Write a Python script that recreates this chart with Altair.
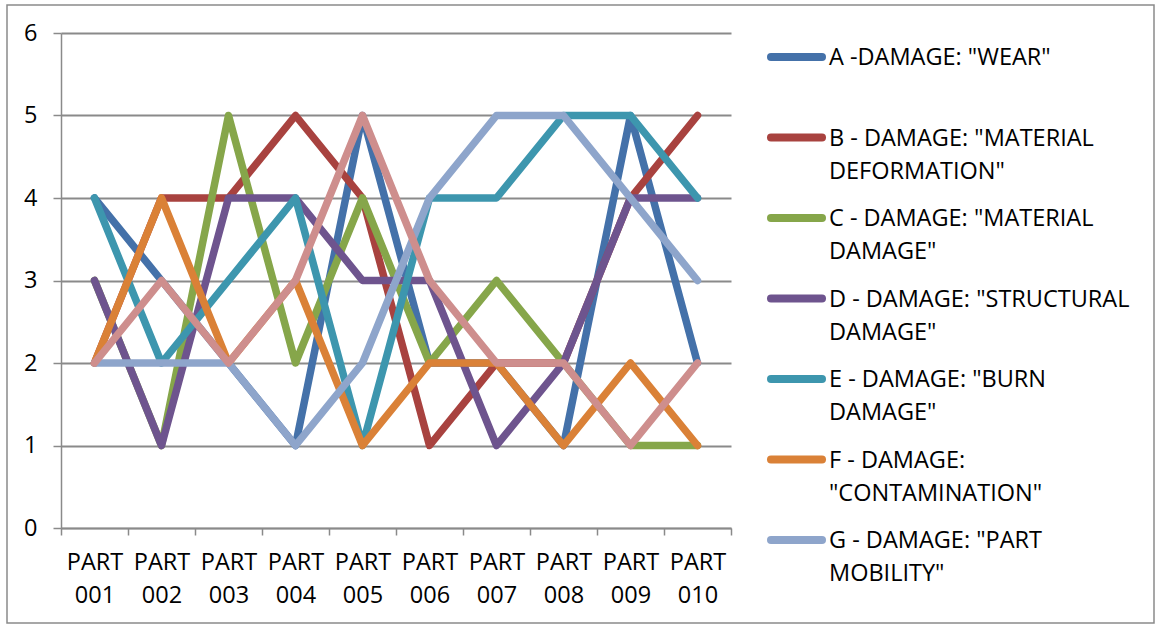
import altair as alt
import pandas as pd

categories = ["PART 001", "PART 002", "PART 003", "PART 004", "PART 005",
              "PART 006", "PART 007", "PART 008", "PART 009", "PART 010"]
series_keys = ["A", "B", "C", "D", "E", "F", "G", "H"]
series_labels = [
    'A -DAMAGE: "WEAR"',
    'B - DAMAGE: "MATERIAL\nDEFORMATION"',
    'C - DAMAGE: "MATERIAL\nDAMAGE"',
    'D - DAMAGE: "STRUCTURAL\nDAMAGE"',
    'E - DAMAGE: "BURN\nDAMAGE"',
    'F - DAMAGE:\n"CONTAMINATION"',
    'G - DAMAGE: "PART\nMOBILITY"',
    'H - DAMAGE',
]
values_A = [4, 3, 2, 1, 5, 2, 2, 1, 5, 2]
values_B = [2, 4, 4, 5, 4, 1, 2, 2, 4, 5]
values_C = [3, 1, 5, 2, 4, 2, 3, 2, 1, 1]
values_D = [3, 1, 4, 4, 3, 3, 1, 2, 4, 4]
values_E = [4, 2, 3, 4, 1, 4, 4, 5, 5, 4]
values_F = [2, 4, 2, 3, 1, 2, 2, 1, 2, 1]
values_G = [2, 2, 2, 1, 2, 4, 5, 5, 4, 3]
values_H = [2, 3, 2, 3, 5, 3, 2, 2, 1, 2]
colors = ["#4471A9", "#A8423F", "#86A64A", "#6E548E",
          "#3D96AE", "#DA8137", "#8EA5CB", "#CE8E8D"]

all_values = [values_A, values_B, values_C, values_D,
              values_E, values_F, values_G, values_H]
rows = []
for key, vals in zip(series_keys, all_values):
    for cat, v in zip(categories, vals):
        rows.append({"category": cat, "series": key, "value": v})
df = pd.DataFrame(rows)

legend_keys = series_keys[:7]
legend_df = pd.DataFrame({"series": legend_keys, "label": series_labels[:7]})

FONT = "Open Sans"
GRID = "#8A8A8A"

color_scale = alt.Scale(domain=series_keys, range=colors)

frame = alt.Chart(pd.DataFrame({"f": [0]})).mark_rect(
    fillOpacity=0, stroke="#8A8A8A", strokeWidth=1.5
).encode(
    x=alt.value(-54), x2=alt.value(1093), y=alt.value(-28), y2=alt.value(590)
)

lines = alt.Chart(df).mark_line(
    strokeWidth=7.5, strokeCap="round", strokeJoin="round"
).encode(
    x=alt.X("category:N", sort=categories, title=None,
            scale=alt.Scale(paddingInner=0, paddingOuter=0),
            axis=alt.Axis(labelAngle=0, tickBand="extent", grid=False,
                          domainColor=GRID, domainWidth=1.5,
                          tickColor=GRID, tickWidth=1.5, tickSize=7,
                          labelFont=FONT, labelFontSize=23.5, labelColor="#000000",
                          labelExpr="split(datum.label, ' ')",
                          labelLineHeight=33, labelPadding=15)),
    y=alt.Y("value:Q", title=None,
            scale=alt.Scale(domain=[0, 6], nice=False, zero=True),
            axis=alt.Axis(values=[0, 1, 2, 3, 4, 5, 6], format="d",
                          grid=True, gridColor=GRID, gridWidth=2,
                          domainColor=GRID, domainWidth=1.5,
                          tickColor=GRID, tickWidth=1.5, tickSize=8,
                          labelFont=FONT, labelFontSize=23.5, labelColor="#000000",
                          labelPadding=16)),
    color=alt.Color("series:N", scale=color_scale, legend=None),
    order=alt.Order("series:N"),
)

leg_y = alt.Y("series:N", sort=legend_keys, axis=None,
              scale=alt.Scale(type="point", range=[24, 507], padding=0))

legend_sym = alt.Chart(legend_df).mark_rule(
    strokeWidth=8, strokeCap="round"
).encode(
    x=alt.value(710), x2=alt.value(761),
    y=leg_y,
    color=alt.Color("series:N", scale=color_scale, legend=None),
)

legend_txt = alt.Chart(legend_df).mark_text(
    align="left", baseline="alphabetic", dy=8, lineBreak="\n",
    lineHeight=33, font=FONT, fontSize=23.5, color="#000000"
).encode(
    x=alt.value(768),
    y=leg_y,
    text="label:N",
)

chart = alt.layer(frame, lines, legend_sym, legend_txt).resolve_scale(
    y="independent"
).properties(
    width=670, height=495,
    padding={"left": 61, "top": 33, "right": 424, "bottom": 97},
    autosize=alt.AutoSizeParams(type="none"),
    background="#FFFFFF",
).configure_view(stroke=None)

chart.save("out.html", embed_options={"renderer": "svg", "actions": False})
